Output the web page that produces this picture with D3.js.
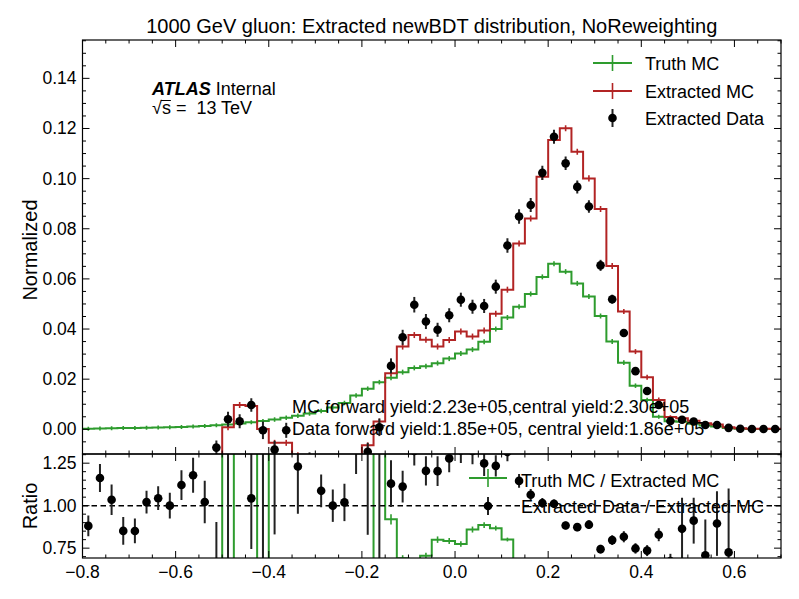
<!DOCTYPE html>
<html>
<head>
<meta charset="utf-8">
<script src="https://cdn.jsdelivr.net/npm/d3@7"></script>
<style>
body { margin: 0; background: #fff; }
text { font-family: "Liberation Sans", Arial, sans-serif; fill: #000; white-space: pre; }
</style>
</head>
<body>
<div id="chart"></div>
<script>
// binning of the newBDT score
var binStart = -0.8, binWidth = 0.025, nBins = 60;

// normalized contents per bin
var truthMC = [
	0.0002, 0.0003, 0.0004, 0.0005, 0.0005, 0.0006, 0.0007, 0.0008, 0.0009, 0.0011,
	0.0013, 0.0016, 0.0019, 0.0023, 0.0028, 0.0033, 0.0039, 0.0046, 0.0054, 0.0063,
	0.0073, 0.0087, 0.0105, 0.0135, 0.0162, 0.0188, 0.0206, 0.0228, 0.0245, 0.0252,
	0.0264, 0.0282, 0.0302, 0.0318, 0.0349, 0.0400, 0.0446, 0.0489, 0.0540, 0.0608,
	0.0660, 0.0629, 0.0582, 0.0530, 0.0452, 0.0350, 0.0266, 0.0174, 0.0117, 0.0050,
	0.0032, 0.0030, 0.0022, 0.0015, 0.0011, 0.0005, 0.0002, 0.0001, 0.0001, 0.0001];
var truthErr = [
	0.0002, 0.0002, 0.0002, 0.0002, 0.0002, 0.0002, 0.0002, 0.0002, 0.0002, 0.0002,
	0.0002, 0.0002, 0.0002, 0.0002, 0.0002, 0.0002, 0.0003, 0.0003, 0.0003, 0.0003,
	0.0003, 0.0003, 0.0003, 0.0003, 0.0003, 0.0003, 0.0004, 0.0004, 0.0004, 0.0004,
	0.0004, 0.0004, 0.0004, 0.0004, 0.0004, 0.0004, 0.0004, 0.0004, 0.0004, 0.0004,
	0.0004, 0.0004, 0.0004, 0.0004, 0.0004, 0.0004, 0.0003, 0.0003, 0.0003, 0.0002,
	0.0001, 0.0001, 0.0001, 0.0001, 0.0001, 0.00002, 0.00001, 0.00001, 0.00001, 0.00001];
var extractedMC = [
	-0.0470, -0.0350, -0.0320, -0.0350, -0.0390, -0.0430, -0.0410, -0.0380, -0.0330, -0.0280,
	-0.0230, -0.0112, 0.0008, 0.0097, 0.0093, 0.0001, -0.0054, -0.0054, -0.0104, -0.0300,
	-0.0298, -0.0300, -0.0260, -0.0133, -0.0064, 0.0031, 0.0224, 0.0330, 0.0376, 0.0357,
	0.0330, 0.0356, 0.0390, 0.0370, 0.0394, 0.0461, 0.0557, 0.0741, 0.0841, 0.1007,
	0.1154, 0.1201, 0.1107, 0.1001, 0.0879, 0.0651, 0.0470, 0.0310, 0.0208, 0.0117,
	0.0049, 0.0044, 0.0034, 0.0024, 0.0019, 0.0008, 0.0004, 0.0002, 0.0002, 0.0002];
var extractedMCErr = [
	0.0006, 0.0006, 0.0006, 0.0006, 0.0006, 0.0006, 0.0006, 0.0006, 0.0006, 0.0006,
	0.0006, 0.0006, 0.0006, 0.0006, 0.0006, 0.0006, 0.0006, 0.0006, 0.0006, 0.0006,
	0.0006, 0.0006, 0.0006, 0.0006, 0.0006, 0.0006, 0.0006, 0.0006, 0.0006, 0.0006,
	0.0006, 0.0006, 0.0006, 0.0006, 0.0006, 0.0006, 0.0006, 0.0006, 0.0006, 0.0006,
	0.0006, 0.0006, 0.0006, 0.0006, 0.0006, 0.0006, 0.0004, 0.0004, 0.0004, 0.0004,
	0.0001, 0.0001, 0.0001, 0.0001, 0.0001, 0.00003, 0.00002, 0.00001, 0.00001, 0.00001];
var extractedData = [
	-0.0414, -0.0407, -0.0331, -0.0298, -0.0332, -0.0439, -0.0428, -0.0380, -0.0370, -0.0330,
	-0.0235, -0.0073, 0.0040, 0.0032, 0.0097, -0.0004, -0.0081, -0.0004, -0.0128, -0.0120,
	-0.0324, -0.0300, -0.0265, -0.0187, -0.0090, 0.0008, 0.0253, 0.0367, 0.0497, 0.0430,
	0.0397, 0.0455, 0.0517, 0.0489, 0.0492, 0.0569, 0.0733, 0.0849, 0.0895, 0.1023,
	0.1167, 0.1061, 0.0967, 0.0889, 0.0654, 0.0519, 0.0384, 0.0232, 0.0153, 0.0097,
	0.0033, 0.0038, 0.0031, 0.0017, 0.0017, 0.00058, 0.0002, 0.0001, 0.0001, 0.0001];
var extractedDataErr = [
	0.0028, 0.0028, 0.0028, 0.0028, 0.0028, 0.0028, 0.0028, 0.0028, 0.0028, 0.0028,
	0.0028, 0.0028, 0.0030, 0.0028, 0.0027, 0.0035, 0.0035, 0.0030, 0.0028, 0.0028,
	0.0028, 0.0028, 0.0028, 0.0028, 0.0036, 0.0035, 0.0030, 0.0030, 0.0031, 0.0030,
	0.0028, 0.0028, 0.0028, 0.0028, 0.0028, 0.0028, 0.0029, 0.0029, 0.0028, 0.0028,
	0.0028, 0.0027, 0.0026, 0.0025, 0.0022, 0.0018, 0.0015, 0.0009, 0.0006, 0.0003,
	0.0002, 0.0008, 0.00045, 0.0005, 0.00035, 0.0003, 0.00005, 0.00003, 0.00003, 0.00003];

var xTicks = [-0.8, -0.6, -0.4, -0.2, 0.0, 0.2, 0.4, 0.6];
var yTicks = [0.00, 0.02, 0.04, 0.06, 0.08, 0.10, 0.12, 0.14];
var ratioTicks = [0.75, 1.00, 1.25];

var titleText = "1000 GeV gluon: Extracted newBDT distribution, NoReweighting";
var yieldLines = ["MC forward yield:2.23e+05,central yield:2.30e+05",
	"Data forward yield:1.85e+05, central yield:1.86e+05"];

var green = "#2e9c2e", red = "#b22424";

// layout
var width = 799, height = 599;
var left = 82.5, right = 781, mainTop = 40, mainBottom = 454, ratioBottom = 558;

var svg = d3.select("#chart").append("svg")
	.attr("width", width)
	.attr("height", height);

var x = d3.scaleLinear().domain([-0.8, 0.7]).range([left, right]);
var y = d3.scaleLinear().domain([-0.00985, 0.1553]).range([mainBottom, mainTop]);
var yr = d3.scaleLinear().domain([0.692, 1.304]).range([ratioBottom, mainBottom]);

var bins = d3.range(nBins).map(function(i) {
	var lo = binStart + i * binWidth;
	var m = extractedMC[i];
	var r1 = truthMC[i] / m, r2 = extractedData[i] / m;
	return {
		lo: lo, hi: lo + binWidth, c: lo + binWidth / 2,
		truth: truthMC[i], truthErr: truthErr[i],
		mc: m, mcErr: extractedMCErr[i],
		data: extractedData[i], dataErr: extractedDataErr[i],
		rTruth: r1,
		rTruthErr: Math.sqrt(Math.pow(truthErr[i], 2) + Math.pow(r1 * extractedMCErr[i], 2)) / Math.abs(m),
		rData: r2,
		rDataErr: Math.sqrt(Math.pow(extractedDataErr[i], 2) + Math.pow(r2 * extractedMCErr[i], 2)) / Math.abs(m)
	};
});

// clip paths for the two panels
var defs = svg.append("defs");
defs.append("clipPath").attr("id", "clipMain").append("rect")
	.attr("x", left).attr("y", mainTop).attr("width", right - left).attr("height", mainBottom - mainTop);
defs.append("clipPath").attr("id", "clipRatio").append("rect")
	.attr("x", left).attr("y", mainBottom).attr("width", right - left).attr("height", ratioBottom - mainBottom);

// step path through full bin edges
function stepPath(key, yScale) {
	var pts = bins.map(function(d) { return [x(d.lo), yScale(d[key])]; });
	pts.push([x(bins[nBins - 1].hi), yScale(bins[nBins - 1][key])]);
	return d3.line().curve(d3.curveStepAfter)(pts);
}

// ---------- main panel ----------
var main = svg.append("g").attr("clip-path", "url(#clipMain)");

main.append("path")
	.attr("d", stepPath("truth", y))
	.attr("fill", "none").attr("stroke", green).attr("stroke-width", 2);
main.selectAll(".terr").data(bins).enter().append("line")
	.attr("x1", function(d) { return x(d.c); }).attr("x2", function(d) { return x(d.c); })
	.attr("y1", function(d) { return y(d.truth - d.truthErr) + 1.5; })
	.attr("y2", function(d) { return y(d.truth + d.truthErr) - 1.5; })
	.attr("stroke", green).attr("stroke-width", 1.6);

main.append("path")
	.attr("d", stepPath("mc", y))
	.attr("fill", "none").attr("stroke", red).attr("stroke-width", 2);
main.selectAll(".merr").data(bins).enter().append("line")
	.attr("x1", function(d) { return x(d.c); }).attr("x2", function(d) { return x(d.c); })
	.attr("y1", function(d) { return y(d.mc - d.mcErr) + 1.5; })
	.attr("y2", function(d) { return y(d.mc + d.mcErr) - 1.5; })
	.attr("stroke", red).attr("stroke-width", 1.6);

main.selectAll(".derr").data(bins).enter().append("line")
	.attr("x1", function(d) { return x(d.c); }).attr("x2", function(d) { return x(d.c); })
	.attr("y1", function(d) { return y(d.data - d.dataErr); })
	.attr("y2", function(d) { return y(d.data + d.dataErr); })
	.attr("stroke", "#222").attr("stroke-width", 2);
main.selectAll(".dpt").data(bins).enter().append("circle")
	.attr("cx", function(d) { return x(d.c); })
	.attr("cy", function(d) { return y(d.data); })
	.attr("r", 4.3).attr("fill", "#000");

// ---------- ratio panel ----------
var ratio = svg.append("g").attr("clip-path", "url(#clipRatio)");

ratio.append("path")
	.attr("d", stepPath("rTruth", yr))
	.attr("fill", "none").attr("stroke", green).attr("stroke-width", 2);
ratio.selectAll(".rterr").data(bins).enter().append("line")
	.attr("x1", function(d) { return x(d.c); }).attr("x2", function(d) { return x(d.c); })
	.attr("y1", function(d) { return yr(d.rTruth - d.rTruthErr); })
	.attr("y2", function(d) { return yr(d.rTruth + d.rTruthErr); })
	.attr("stroke", green).attr("stroke-width", 1.6);

ratio.append("line")
	.attr("x1", left).attr("x2", right).attr("y1", yr(1)).attr("y2", yr(1))
	.attr("stroke", "#000").attr("stroke-width", 1.5).attr("stroke-dasharray", "5.5,3.5");

ratio.selectAll(".rderr").data(bins).enter().append("line")
	.attr("x1", function(d) { return x(d.c); }).attr("x2", function(d) { return x(d.c); })
	.attr("y1", function(d) { return yr(d.rData - d.rDataErr); })
	.attr("y2", function(d) { return yr(d.rData + d.rDataErr); })
	.attr("stroke", "#222").attr("stroke-width", 2);
ratio.selectAll(".rdpt").data(bins).enter().append("circle")
	.attr("cx", function(d) { return x(d.c); })
	.attr("cy", function(d) { return yr(d.rData); })
	.attr("r", 4.3).attr("fill", "#000");

// ---------- frames and inward ticks ----------
var axes = svg.append("g");
function frame(top, bottom) {
	axes.append("rect")
		.attr("x", left).attr("y", top).attr("width", right - left).attr("height", bottom - top)
		.attr("fill", "none").attr("stroke", "#000").attr("stroke-width", 1.2);
}
frame(mainTop, mainBottom);
frame(mainBottom, ratioBottom);

function tick(x1, y1, x2, y2) {
	axes.append("line").attr("x1", x1).attr("y1", y1).attr("x2", x2).attr("y2", y2)
		.attr("stroke", "#000").attr("stroke-width", 1);
}
var xMinor = d3.range(-0.8, 0.7001, 0.05);
[mainTop, mainBottom, ratioBottom].forEach(function(edge, k) {
	xMinor.forEach(function(v) {
		var major = xTicks.some(function(t) { return Math.abs(t - v) < 1e-6; });
		var len = major ? 7 : 3.5;
		var px = x(v);
		if (k < 2) tick(px, edge, px, edge + len);   // pointing down into panel below
		if (k > 0) tick(px, edge, px, edge - len);   // pointing up into panel above
	});
});
d3.range(-0.005, 0.1551, 0.005).forEach(function(v) {
	var major = yTicks.some(function(t) { return Math.abs(t - v) < 1e-6; });
	var len = major ? 7 : 3.5;
	tick(left, y(v), left + len, y(v));
	tick(right, y(v), right - len, y(v));
});
d3.range(0.70, 1.3001, 0.05).forEach(function(v) {
	var major = ratioTicks.some(function(t) { return Math.abs(t - v) < 1e-6; });
	var len = major ? 7 : 3.5;
	tick(left, yr(v), left + len, yr(v));
	tick(right, yr(v), right - len, yr(v));
});

// tick labels
var fmtX = function(v) { return d3.format(".1f")(v).replace("-", "\u2212"); };
axes.selectAll(".xl").data(xTicks).enter().append("text")
	.attr("x", function(d) { return x(d); }).attr("y", 578)
	.attr("text-anchor", "middle").attr("font-size", 17.5)
	.text(fmtX);
axes.selectAll(".yl").data(yTicks).enter().append("text")
	.attr("x", left - 6).attr("y", function(d) { return y(d) + 6; })
	.attr("text-anchor", "end").attr("font-size", 17.5)
	.text(d3.format(".2f"));
axes.selectAll(".rl").data(ratioTicks).enter().append("text")
	.attr("x", left - 6).attr("y", function(d) { return yr(d) + 6; })
	.attr("text-anchor", "end").attr("font-size", 17.5)
	.text(d3.format(".2f"));

// axis titles
svg.append("text").attr("transform", "translate(37,250)rotate(-90)")
	.attr("text-anchor", "middle").attr("font-size", 20).text("Normalized");
svg.append("text").attr("transform", "translate(37,506)rotate(-90)")
	.attr("text-anchor", "middle").attr("font-size", 20).text("Ratio");

// title
svg.append("text").attr("x", (left + right) / 2).attr("y", 33)
	.attr("text-anchor", "middle").attr("font-size", 20).text(titleText);

// ATLAS label
var atlas = svg.append("text").attr("x", 152).attr("y", 94.5).attr("font-size", 18);
atlas.append("tspan").attr("font-weight", "bold").attr("font-style", "italic").text("ATLAS");
atlas.append("tspan").text(" Internal");
var sq = svg.append("text").attr("x", 152).attr("y", 114).attr("font-size", 18).text("\u221As =  13 TeV");
var sExt = sq.node().getExtentOfChar(1), rootExt = sq.node().getExtentOfChar(0);
svg.append("line")
	.attr("x1", rootExt.x + rootExt.width - 1).attr("x2", sExt.x + sExt.width)
	.attr("y1", rootExt.y + 2.5).attr("y2", rootExt.y + 2.5)
	.attr("stroke", "#000").attr("stroke-width", 1);

// yields
yieldLines.forEach(function(s, i) {
	svg.append("text").attr("x", 292).attr("y", 413 + i * 22).attr("font-size", 18).text(s);
});

// main legend
var leg = [
	{label: "Truth MC", color: green, type: "line", y: 63},
	{label: "Extracted MC", color: red, type: "line", y: 91},
	{label: "Extracted Data", color: "#000", type: "point", y: 118}
];
leg.forEach(function(d) {
	if (d.type === "line") {
		svg.append("line").attr("x1", 593).attr("x2", 632).attr("y1", d.y).attr("y2", d.y)
			.attr("stroke", d.color).attr("stroke-width", 2);
		svg.append("line").attr("x1", 612.5).attr("x2", 612.5).attr("y1", d.y - 8).attr("y2", d.y + 8)
			.attr("stroke", d.color).attr("stroke-width", 1.6);
	} else {
		svg.append("line").attr("x1", 612.5).attr("x2", 612.5).attr("y1", d.y - 9).attr("y2", d.y + 9)
			.attr("stroke", "#222").attr("stroke-width", 2);
		svg.append("circle").attr("cx", 612.5).attr("cy", d.y).attr("r", 4.3).attr("fill", "#000");
	}
	svg.append("text").attr("x", 645).attr("y", d.y + 6.5).attr("font-size", 18).text(d.label);
});

// ratio legend
svg.append("line").attr("x1", 469).attr("x2", 507).attr("y1", 478).attr("y2", 478)
	.attr("stroke", green).attr("stroke-width", 2);
svg.append("line").attr("x1", 488).attr("x2", 488).attr("y1", 469).attr("y2", 487)
	.attr("stroke", green).attr("stroke-width", 1.6);
svg.append("text").attr("x", 521).attr("y", 486.5).attr("font-size", 18).text("Truth MC / Extracted MC");
svg.append("line").attr("x1", 488).attr("x2", 488).attr("y1", 497).attr("y2", 515)
	.attr("stroke", "#222").attr("stroke-width", 2);
svg.append("circle").attr("cx", 488).attr("cy", 506).attr("r", 4.3).attr("fill", "#000");
svg.append("text").attr("x", 521).attr("y", 512.5).attr("font-size", 18).text("Extracted Data / Extracted MC");
</script>
</body>
</html>
